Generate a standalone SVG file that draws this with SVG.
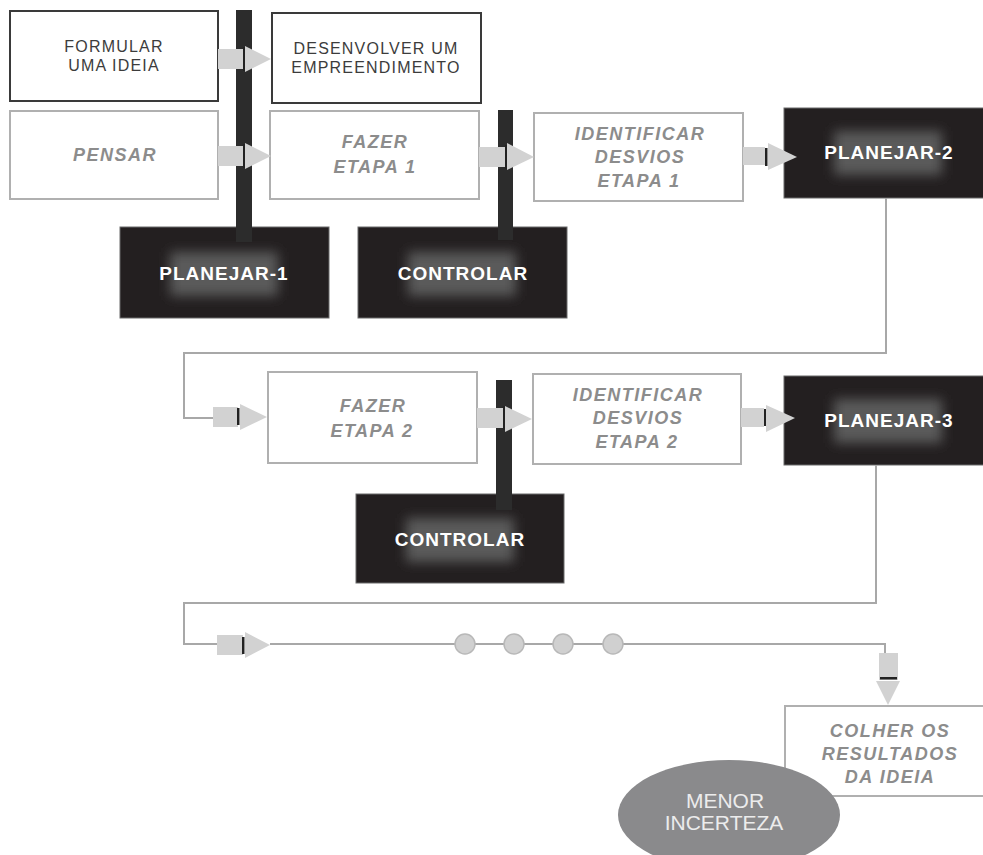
<svg xmlns="http://www.w3.org/2000/svg" width="983" height="855" viewBox="0 0 983 855">
<defs>
<filter id="glow" x="-30%" y="-50%" width="160%" height="200%"><feGaussianBlur stdDeviation="6"/></filter>
<style>
.dk{fill:#fff;stroke:#3a3a3a;stroke-width:2}
.lt{fill:#fff;stroke:#b0b0b0;stroke-width:2}
.bk{fill:#231f20;stroke:#6a6a6a;stroke-width:1}
.bar{fill:#2c2c2c}
.t1{font-family:"Liberation Sans",Arial,sans-serif;font-size:16px;fill:#3c3c3c;letter-spacing:1.2px;text-anchor:middle}
.ti{font-family:"Liberation Sans",Arial,sans-serif;font-size:18px;font-weight:bold;font-style:italic;fill:#8c8c8c;letter-spacing:1.5px;text-anchor:middle}
.tw{font-family:"Liberation Sans",Arial,sans-serif;font-size:19px;font-weight:bold;fill:#fff;letter-spacing:1px;text-anchor:middle}
.tm{font-family:"Liberation Sans",Arial,sans-serif;font-size:21px;fill:#ececec;text-anchor:middle}
.gl{fill:#5a5a5a;filter:url(#glow)}
.ln{fill:none;stroke:#a8a8a8;stroke-width:2}
.ar{fill:#d2d2d2}
.mk{fill:#222}
.dot{fill:#d0d0d0;stroke:#b8b8b8;stroke-width:1.5}
</style>
</defs>

<g id="n-formular"><rect class="dk" x="10" y="11" width="208" height="90"/><text class="t1" x="114" y="52">FORMULAR</text><text class="t1" x="114" y="71">UMA IDEIA</text></g>
<g id="n-desenvolver"><rect class="dk" x="272" y="13" width="209" height="90"/><text class="t1" x="376" y="54">DESENVOLVER UM</text><text class="t1" x="376" y="73">EMPREENDIMENTO</text></g>
<g id="n-pensar"><rect class="lt" x="10" y="111" width="208" height="88"/><text class="ti" x="115" y="161">PENSAR</text></g>
<g id="n-fazer1"><rect class="lt" x="270" y="111" width="209" height="88"/><text class="ti" x="375" y="148">FAZER</text><text class="ti" x="375" y="173">ETAPA 1</text></g>
<g id="n-ident1"><rect class="lt" x="534" y="113" width="209" height="88"/><text class="ti" x="640" y="140">IDENTIFICAR</text><text class="ti" x="640" y="163">DESVIOS</text><text class="ti" x="639" y="187">ETAPA 1</text></g>
<g id="n-planejar1"><rect class="bk" x="120" y="227" width="209" height="91"/><rect class="gl" x="170" y="252" width="108" height="44"/><text class="tw" x="224" y="280">PLANEJAR-1</text></g>
<g id="n-controlar1"><rect class="bk" x="358" y="227" width="209" height="91"/><rect class="gl" x="408" y="252" width="108" height="44"/><text class="tw" x="463" y="280">CONTROLAR</text></g>
<g id="n-planejar2"><rect class="bk" x="784" y="108" width="205" height="90"/><rect class="gl" x="834" y="131" width="108" height="44"/><text class="tw" x="889" y="159">PLANEJAR-2</text></g>
<g id="n-fazer2"><rect class="lt" x="268" y="372" width="209" height="91"/><text class="ti" x="373" y="412">FAZER</text><text class="ti" x="372" y="437">ETAPA 2</text></g>
<g id="n-ident2"><rect class="lt" x="533" y="374" width="208" height="90"/><text class="ti" x="638" y="401">IDENTIFICAR</text><text class="ti" x="638" y="424">DESVIOS</text><text class="ti" x="637" y="448">ETAPA 2</text></g>
<g id="n-controlar2"><rect class="bk" x="356" y="494" width="208" height="89"/><rect class="gl" x="406" y="518" width="108" height="44"/><text class="tw" x="460" y="546">CONTROLAR</text></g>
<g id="n-planejar3"><rect class="bk" x="784" y="376" width="205" height="89"/><rect class="gl" x="834" y="399" width="108" height="44"/><text class="tw" x="889" y="427">PLANEJAR-3</text></g>
<g id="n-colher"><rect class="lt" x="785" y="706" width="205" height="90"/><text class="ti" x="890" y="737">COLHER OS</text><text class="ti" x="890" y="760">RESULTADOS</text><text class="ti" x="890" y="783">DA IDEIA</text></g>
<g id="n-menor"><ellipse cx="729" cy="815" rx="111" ry="55" fill="#8a8a8c"/><text class="tm" x="725" y="808">MENOR</text><text class="tm" x="724" y="830">INCERTEZA</text></g>

<g id="connectors">
<rect class="bar" x="236" y="10" width="16" height="232"/>
<rect class="bar" x="498" y="110" width="15" height="130"/>
<rect class="bar" x="496" y="380" width="16" height="130"/>

<polyline class="ln" points="886,198 886,353 184,353 184,418 213,418"/>
<polyline class="ln" points="876,465 876,603 184,603 184,644 217,644"/>
<polyline class="ln" points="270,644 885,644 885,653"/>
<circle class="dot" cx="465" cy="644" r="10"/>
<circle class="dot" cx="514" cy="644" r="10"/>
<circle class="dot" cx="563" cy="644" r="10"/>
<circle class="dot" cx="613" cy="644" r="10"/>

<g id="a1"><rect class="ar" x="218" y="49" width="25" height="20"/><rect class="mk" x="243" y="47" width="2" height="24"/><polygon class="ar" points="245,46 245,72 271,59"/></g>
<g id="a2"><rect class="ar" x="218" y="146" width="25" height="20"/><rect class="mk" x="243" y="144" width="2" height="24"/><polygon class="ar" points="245,143 245,169 271,156"/></g>
<g id="a3"><rect class="ar" x="479" y="147" width="26" height="20"/><rect class="mk" x="505" y="145" width="2" height="24"/><polygon class="ar" points="507,143 507,170 534,157"/></g>
<g id="a4"><rect class="ar" x="743" y="147" width="22" height="18"/><rect class="mk" x="765" y="148" width="2.5" height="18"/><polygon class="ar" points="768,143 768,170 797,157"/></g>
<g id="a5"><rect class="ar" x="213" y="407" width="25" height="20"/><rect class="mk" x="237" y="408" width="2.5" height="17"/><polygon class="ar" points="240,404 240,430 267,417"/></g>
<g id="a6"><rect class="ar" x="477" y="408" width="26" height="20"/><rect class="mk" x="503" y="406" width="2" height="24"/><polygon class="ar" points="505,406 505,432 532,419"/></g>
<g id="a7"><rect class="ar" x="741" y="408" width="23" height="19"/><rect class="mk" x="764" y="409" width="2.5" height="17"/><polygon class="ar" points="766,405 766,432 795,418"/></g>
<g id="a8"><rect class="ar" x="217" y="635" width="26" height="20"/><rect class="mk" x="242" y="637" width="2.5" height="17"/><polygon class="ar" points="245,632 245,658 270,645"/></g>
<g id="a9"><rect class="ar" x="879" y="653" width="19" height="27"/><rect class="mk" x="880" y="677" width="17" height="2.5"/><polygon class="ar" points="876,681 900,681 888,705"/></g>
</g>
</svg>
